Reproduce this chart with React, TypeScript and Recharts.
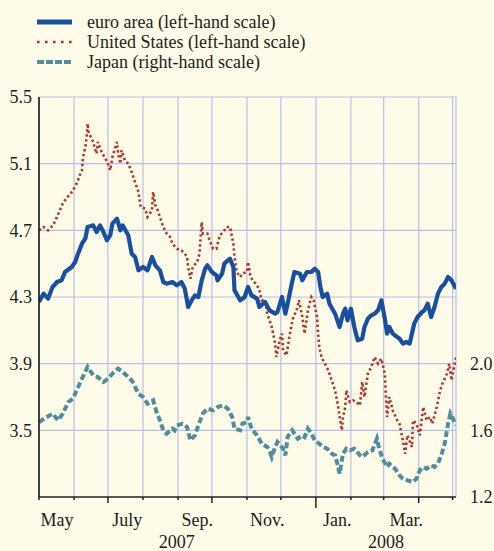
import { ComposedChart, Line, XAxis, YAxis, CartesianGrid } from 'recharts';

// days counted from 1 May 2007
const euroDays = [0, 4, 8, 12, 16, 20, 23, 29, 32, 34, 38, 41, 43, 48, 51, 54, 57, 60, 63, 65, 69, 72, 74, 79, 82, 85, 88, 92, 96, 100, 103, 107, 110, 113, 118, 122, 126, 129, 132, 135, 138, 141, 144, 147, 149, 153, 157, 158, 162, 164, 169, 172, 173, 178, 182, 185, 188, 193, 195, 200, 204, 209, 211, 215, 218, 220, 224, 226, 231, 233, 237, 241, 244, 247, 249, 251, 255, 257, 262, 266, 269, 271, 273, 276, 279, 282, 286, 288, 291, 294, 297, 300, 303, 306, 308, 310, 313, 317, 319, 322, 325, 328, 332, 335, 339, 341, 344, 347, 350, 353, 356, 359, 362, 365, 369];
const euroValues = [4.27, 4.32, 4.29, 4.36, 4.39, 4.40, 4.45, 4.48, 4.51, 4.55, 4.62, 4.65, 4.72, 4.73, 4.69, 4.73, 4.69, 4.64, 4.67, 4.74, 4.77, 4.70, 4.73, 4.67, 4.56, 4.54, 4.46, 4.48, 4.46, 4.54, 4.49, 4.46, 4.39, 4.38, 4.39, 4.37, 4.39, 4.35, 4.24, 4.28, 4.31, 4.30, 4.40, 4.47, 4.49, 4.45, 4.43, 4.40, 4.44, 4.50, 4.53, 4.48, 4.34, 4.28, 4.30, 4.36, 4.31, 4.29, 4.24, 4.27, 4.22, 4.20, 4.21, 4.30, 4.20, 4.26, 4.39, 4.45, 4.44, 4.40, 4.45, 4.45, 4.47, 4.45, 4.36, 4.30, 4.32, 4.26, 4.20, 4.12, 4.20, 4.23, 4.16, 4.23, 4.12, 4.04, 4.05, 4.12, 4.17, 4.19, 4.20, 4.22, 4.28, 4.17, 4.08, 4.12, 4.08, 4.06, 4.05, 4.02, 4.03, 4.02, 4.14, 4.18, 4.21, 4.22, 4.26, 4.18, 4.24, 4.32, 4.36, 4.38, 4.42, 4.40, 4.35];

const usDays = [0, 4, 8, 11, 14, 19, 21, 25, 27, 30, 34, 36, 38, 39, 41, 42, 43, 44, 47, 50, 51, 52, 56, 58, 61, 63, 65, 69, 70, 72, 73, 76, 79, 82, 85, 88, 90, 94, 96, 100, 101, 103, 105, 107, 110, 113, 116, 118, 122, 126, 129, 131, 132, 134, 136, 140, 142, 144, 145, 149, 151, 154, 157, 160, 163, 166, 169, 172, 173, 175, 178, 180, 184, 185, 187, 189, 193, 195, 197, 200, 202, 206, 209, 210, 213, 215, 216, 219, 222, 225, 228, 230, 233, 235, 238, 241, 243, 246, 247, 248, 250, 253, 256, 259, 262, 264, 268, 269, 271, 272, 275, 278, 281, 284, 286, 288, 291, 294, 297, 300, 303, 306, 307, 308, 310, 313, 317, 319, 322, 324, 326, 330, 331, 334, 337, 340, 343, 346, 348, 352, 355, 357, 361, 363, 365, 369];
const usValues = [4.70, 4.72, 4.70, 4.72, 4.75, 4.83, 4.86, 4.90, 4.91, 4.94, 4.99, 5.03, 5.06, 5.14, 5.20, 5.25, 5.34, 5.28, 5.25, 5.18, 5.16, 5.23, 5.16, 5.14, 5.10, 5.06, 5.14, 5.23, 5.16, 5.10, 5.18, 5.12, 5.10, 5.05, 4.99, 4.93, 4.84, 4.83, 4.78, 4.82, 4.93, 4.85, 4.82, 4.78, 4.72, 4.68, 4.66, 4.62, 4.59, 4.58, 4.56, 4.54, 4.48, 4.41, 4.48, 4.51, 4.56, 4.75, 4.68, 4.68, 4.64, 4.59, 4.59, 4.67, 4.69, 4.72, 4.72, 4.62, 4.54, 4.45, 4.42, 4.44, 4.45, 4.51, 4.43, 4.40, 4.37, 4.34, 4.28, 4.28, 4.20, 4.12, 4.02, 3.94, 4.04, 4.08, 3.98, 3.95, 4.08, 4.18, 4.22, 4.28, 4.18, 4.08, 4.22, 4.30, 4.28, 4.18, 4.08, 4.00, 3.94, 3.90, 3.86, 3.80, 3.74, 3.67, 3.50, 3.58, 3.64, 3.74, 3.67, 3.68, 3.67, 3.65, 3.79, 3.70, 3.84, 3.88, 3.94, 3.90, 3.93, 3.84, 3.70, 3.58, 3.70, 3.62, 3.56, 3.54, 3.44, 3.36, 3.47, 3.40, 3.56, 3.54, 3.47, 3.64, 3.56, 3.58, 3.54, 3.64, 3.74, 3.78, 3.84, 3.90, 3.80, 3.94];

const japanDays = [0, 7, 12, 17, 21, 26, 30, 34, 38, 43, 48, 52, 57, 61, 65, 70, 74, 79, 83, 88, 92, 96, 101, 104, 107, 110, 113, 118, 120, 122, 127, 131, 134, 138, 141, 145, 149, 154, 158, 163, 167, 171, 173, 178, 180, 184, 185, 188, 193, 197, 202, 204, 206, 209, 211, 216, 218, 220, 224, 226, 229, 233, 235, 238, 241, 244, 248, 251, 255, 259, 262, 264, 266, 269, 272, 275, 279, 284, 286, 291, 295, 299, 301, 304, 308, 310, 315, 319, 322, 326, 331, 334, 337, 340, 343, 347, 350, 353, 356, 359, 362, 364, 367, 369];
const japanValues = [1.65, 1.68, 1.70, 1.66, 1.70, 1.77, 1.79, 1.85, 1.91, 1.98, 1.93, 1.92, 1.89, 1.91, 1.94, 1.97, 1.95, 1.92, 1.89, 1.82, 1.80, 1.76, 1.78, 1.71, 1.66, 1.60, 1.58, 1.61, 1.60, 1.63, 1.64, 1.62, 1.54, 1.57, 1.63, 1.70, 1.73, 1.72, 1.74, 1.75, 1.73, 1.68, 1.61, 1.60, 1.64, 1.65, 1.68, 1.61, 1.57, 1.52, 1.50, 1.48, 1.44, 1.50, 1.53, 1.49, 1.45, 1.56, 1.60, 1.58, 1.55, 1.57, 1.56, 1.61, 1.58, 1.54, 1.52, 1.50, 1.49, 1.46, 1.45, 1.40, 1.34, 1.46, 1.49, 1.48, 1.49, 1.45, 1.44, 1.47, 1.48, 1.55, 1.49, 1.43, 1.38, 1.40, 1.37, 1.33, 1.31, 1.30, 1.29, 1.31, 1.36, 1.38, 1.37, 1.39, 1.38, 1.40, 1.45, 1.52, 1.64, 1.70, 1.66, 1.63];

// first day of each month, May 2007 .. May 2008
const monthStarts = [0, 31, 61, 92, 123, 153, 184, 214, 245, 276, 305, 336, 366];
const quarterStarts = [61, 153, 336];
const yearStart = 245;
const monthLabelDays = [16, 78, 140, 202, 264, 325];
const monthLabels = ['May', 'July', 'Sep.', 'Nov.', 'Jan.', 'Mar.'];
const yearLabelDays = [122, 307];
const yearLabels = ['2007', '2008'];
const leftTicks = [3.5, 3.9, 4.3, 4.7, 5.1, 5.5];
const rightTicks = [1.2, 1.6, 2.0];

const BG = '#fefce9';
const GRID = '#b7bee8';
const EURO = '#1750a0';
const US = '#b3352c';
const JAPAN = '#4f8d9f';
const FONT = '"Liberation Serif", "Times New Roman", serif';
const TEXT = '#1c1c1c';

type Row = { day: number; euro?: number; us?: number; japan?: number };

function buildRows(): Row[] {
  const map = new Map<number, Row>();
  const put = (days: number[], vals: number[], key: 'euro' | 'us' | 'japan') => {
    days.forEach((d, i) => {
      const r = map.get(d) ?? { day: d };
      r[key] = vals[i];
      map.set(d, r);
    });
  };
  put(euroDays, euroValues, 'euro');
  put(usDays, usValues, 'us');
  put(japanDays, japanValues, 'japan');
  return [...map.values()].sort((a, b) => a.day - b.day);
}

const rows = buildRows();

// eslint-disable-next-line @typescript-eslint/no-explicit-any
function MonthTick({ x, y, payload }: any) {
  const v = payload.value;
  const len = v === yearStart ? 11 : quarterStarts.includes(v) ? 6 : 3;
  return <line x1={x} x2={x} y1={y} y2={y + len} stroke="#222" strokeWidth={1.5} />;
}

// eslint-disable-next-line @typescript-eslint/no-explicit-any
function MonthLabel({ x, y, payload }: any) {
  const i = monthLabelDays.indexOf(payload.value);
  return (
    <text x={x} y={y + 17} textAnchor="middle" fontSize={18} fontFamily={FONT} fill={TEXT}>
      {monthLabels[i]}
    </text>
  );
}

// eslint-disable-next-line @typescript-eslint/no-explicit-any
function YearLabel({ x, y, payload }: any) {
  const i = yearLabelDays.indexOf(payload.value);
  return (
    <text x={x} y={y + 17} textAnchor="middle" fontSize={18} fontFamily={FONT} fill={TEXT}>
      {yearLabels[i]}
    </text>
  );
}

const legendItems = [
  { label: 'euro area (left-hand scale)', color: EURO, width: 5, dash: undefined },
  { label: 'United States (left-hand scale)', color: US, width: 2.6, dash: '2.6 5.4' },
  { label: 'Japan (right-hand scale)', color: JAPAN, width: 4, dash: '7 2' },
];

export default function App() {
  const tickStyle = { fontSize: 18, fill: TEXT, fontFamily: FONT };
  return (
    <div style={{ position: 'absolute', left: 0, top: 0, width: 494, height: 551, background: BG, overflow: 'hidden' }}>
      <div style={{ position: 'absolute', left: 37, top: 12, fontFamily: FONT, fontSize: 18, color: TEXT }}>
        {legendItems.map((it) => (
          <div key={it.label} style={{ display: 'flex', alignItems: 'center', height: 20 }}>
            <svg width={35} height={8} style={{ marginRight: 15 }}>
              <line x1={0} x2={35} y1={4} y2={4} stroke={it.color} strokeWidth={it.width} strokeDasharray={it.dash} />
            </svg>
            <span style={{ lineHeight: '20px', whiteSpace: 'nowrap' }}>{it.label}</span>
          </div>
        ))}
      </div>
      <ComposedChart
        width={494}
        height={551}
        data={rows}
        margin={{ top: 97, right: 0, bottom: 0, left: 0 }}
        style={{ position: 'absolute', left: 0, top: 0 }}
      >
        <CartesianGrid xAxisId={0} yAxisId="left" stroke={GRID} strokeWidth={1.2} />
        {/* month boundaries: tick marks + axis line */}
        <XAxis
          xAxisId={0}
          dataKey="day"
          type="number"
          domain={[0, 369]}
          ticks={monthStarts}
          allowDataOverflow
          height={12}
          tickSize={0}
          tickMargin={0}
          tick={<MonthTick />}
          axisLine={{ stroke: '#2a2a2a', strokeWidth: 1.5 }}
          interval={0}
        />
        {/* month names */}
        <XAxis
          xAxisId={1}
          dataKey="day"
          type="number"
          domain={[0, 369]}
          ticks={monthLabelDays}
          allowDataOverflow
          height={22}
          tickSize={0}
          tickMargin={0}
          tick={<MonthLabel />}
          axisLine={false}
          tickLine={false}
          interval={0}
        />
        {/* years */}
        <XAxis
          xAxisId={2}
          dataKey="day"
          type="number"
          domain={[0, 369]}
          ticks={yearLabelDays}
          allowDataOverflow
          height={20}
          tickSize={0}
          tickMargin={0}
          tick={<YearLabel />}
          axisLine={false}
          tickLine={false}
          interval={0}
        />
        <YAxis
          yAxisId="left"
          type="number"
          domain={[3.1, 5.5]}
          ticks={leftTicks}
          allowDataOverflow
          width={39}
          tickSize={0}
          tickMargin={7}
          tick={tickStyle}
          tickFormatter={(v: number) => v.toFixed(1)}
          axisLine={{ stroke: '#111', strokeWidth: 1.5 }}
          interval={0}
        />
        <YAxis
          yAxisId="right"
          orientation="right"
          type="number"
          domain={[1.2, 3.6]}
          ticks={rightTicks}
          allowDataOverflow
          width={38}
          tickSize={0}
          tickMargin={14}
          tick={{ ...tickStyle, textAnchor: 'start' }}
          tickFormatter={(v: number) => v.toFixed(1)}
          axisLine={false}
          interval={0}
        />
        <Line
          xAxisId={0}
          yAxisId="right"
          dataKey="japan"
          type="linear"
          stroke={JAPAN}
          strokeWidth={4}
          strokeDasharray="6 3"
          dot={false}
          connectNulls
          isAnimationActive={false}
        />
        <Line
          xAxisId={0}
          yAxisId="left"
          dataKey="us"
          type="linear"
          stroke={US}
          strokeWidth={2.6}
          strokeDasharray="2.4 2.6"
          dot={false}
          connectNulls
          isAnimationActive={false}
        />
        <Line
          xAxisId={0}
          yAxisId="left"
          dataKey="euro"
          type="linear"
          stroke={EURO}
          strokeWidth={4.2}
          strokeLinejoin="round"
          dot={false}
          connectNulls
          isAnimationActive={false}
        />
      </ComposedChart>
    </div>
  );
}
